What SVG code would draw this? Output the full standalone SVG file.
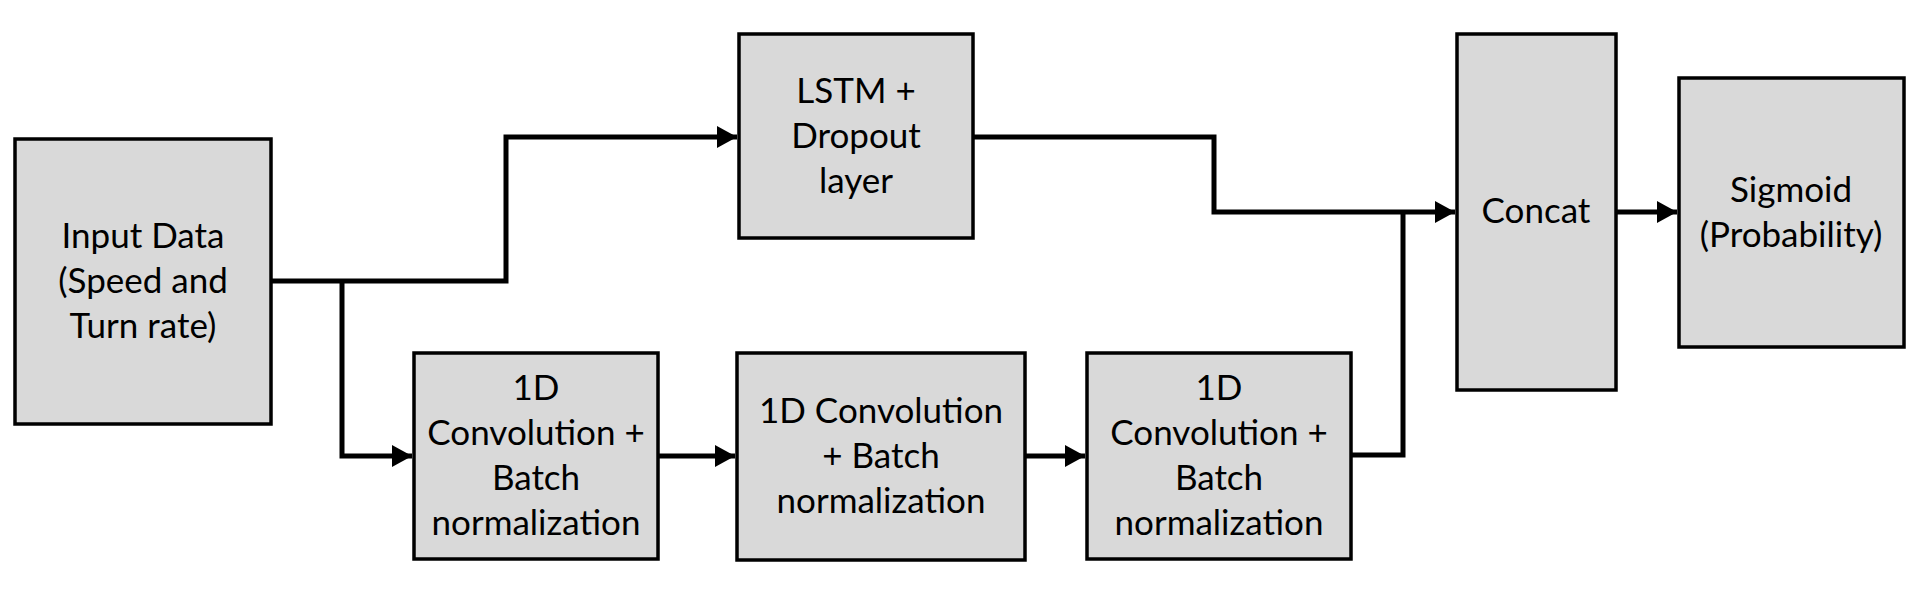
<svg xmlns="http://www.w3.org/2000/svg" width="1922" height="592" viewBox="0 0 1922 592">
<defs>
<style>
.box{fill:#d9d9d9;stroke:#000;stroke-width:3.5}
.t{font-family:Lato,"Liberation Sans",sans-serif;font-size:35px;fill:#000;text-anchor:middle}
.c{fill:none;stroke:#000;stroke-width:5;stroke-linejoin:miter}
</style>
<marker id="ah" markerUnits="userSpaceOnUse" markerWidth="20" markerHeight="22" refX="20" refY="11" orient="auto">
<path d="M0,0 L20,11 L0,22 Z" fill="#000"/>
</marker>
</defs>
<rect width="1922" height="592" fill="#fff"/>
<g id="connectors">
<path class="c" d="M271,281 H506 V137 H737" marker-end="url(#ah)"/>
<path class="c" d="M342,281 V456 H412" marker-end="url(#ah)"/>
<path class="c" d="M658,456 H735" marker-end="url(#ah)"/>
<path class="c" d="M1025,456 H1085" marker-end="url(#ah)"/>
<path class="c" d="M1351,455 H1403 V212"/>
<path class="c" d="M973,137 H1214 V212 H1455" marker-end="url(#ah)"/>
<path class="c" d="M1616,212 H1677" marker-end="url(#ah)"/>
</g>
<g id="input">
<rect class="box" x="15" y="139" width="256" height="285"/>
<text class="t" x="143" y="248">Input Data</text>
<text class="t" x="143" y="293">(Speed and</text>
<text class="t" x="143" y="338">Turn rate)</text>
</g>
<g id="lstm">
<rect class="box" x="739" y="34" width="234" height="204"/>
<text class="t" x="856" y="103">LSTM +</text>
<text class="t" x="856" y="148">Dropout</text>
<text class="t" x="856" y="193">layer</text>
</g>
<g id="conv1">
<rect class="box" x="414" y="353" width="244" height="206"/>
<text class="t" x="536" y="400">1D</text>
<text class="t" x="536" y="445">Convolution +</text>
<text class="t" x="536" y="490">Batch</text>
<text class="t" x="536" y="535">normalization</text>
</g>
<g id="conv2">
<rect class="box" x="737" y="353" width="288" height="207"/>
<text class="t" x="881" y="423">1D Convolution</text>
<text class="t" x="881" y="468">+ Batch</text>
<text class="t" x="881" y="513">normalization</text>
</g>
<g id="conv3">
<rect class="box" x="1087" y="353" width="264" height="206"/>
<text class="t" x="1219" y="400">1D</text>
<text class="t" x="1219" y="445">Convolution +</text>
<text class="t" x="1219" y="490">Batch</text>
<text class="t" x="1219" y="535">normalization</text>
</g>
<g id="concat">
<rect class="box" x="1457" y="34" width="159" height="356"/>
<text class="t" x="1536" y="223">Concat</text>
</g>
<g id="sigmoid">
<rect class="box" x="1679" y="78" width="225" height="269"/>
<text class="t" x="1791" y="202">Sigmoid</text>
<text class="t" x="1791" y="247">(Probability)</text>
</g>
</svg>
